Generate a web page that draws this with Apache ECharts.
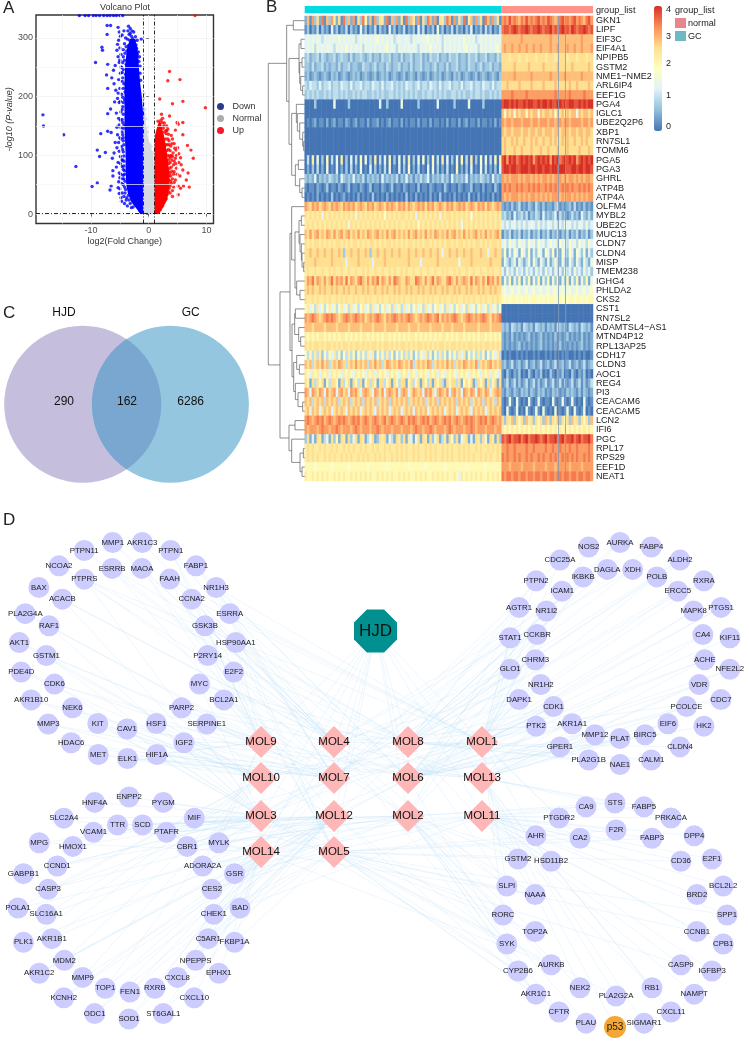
<!DOCTYPE html>
<html><head><meta charset="utf-8">
<script src="https://cdn.jsdelivr.net/npm/echarts@6/dist/echarts.min.js"></script>
<style>html,body{margin:0;padding:0;background:#fff}#c{width:749px;height:1062px}</style>
</head><body><div id="c"></div>
<script>
/* ---------- Panel A : volcano ---------- */
// dense part of each cloud: [-log10P, left log2FC, right log2FC]
const downCloud=[[0,-1.5,-1],[8,-2,-1],[20,-3,-1],[35,-3.6,-1],[50,-3.9,-1],[75,-4,-1],[100,-4,-1],[125,-4.1,-1],[150,-4.2,-1],[175,-4.2,-1],[200,-4.2,-1.2],[225,-4.2,-1.5],[250,-4.1,-1.7],[270,-3.9,-1.8],[285,-3.7,-2],[298,-3.2,-2.4]];
const normalCloud=[[0,-1,1],[60,-1,1],[100,-1,0.8],[115,-1,0.3],[135,-1,-0.2],[155,-1,-0.5],[180,-1,-0.75],[200,-1,-0.9]];
const upCloud=[[0,1,1.8],[10,1,2.4],[25,1,3.2],[50,1,3.6],[75,1,3.5],[100,1,3.2],[120,1,2.9],[135,1.1,2.6],[150,1.5,2.2],[158,1.8,2]];
const downPts=[[-18.3,169],[-18.2,150],[-14.7,135],[-12.6,81],[-9.2,258],[-9.8,47],[-8.9,53],[-8.9,109],[-8.5,98],[-8.3,137],[-7.5,105],[-7.2,321],[-6.6,321],[-7.2,306],[-8.1,284],[-8,279],[-7.1,255],[-7.3,237],[-7.1,214],[-6.6,179],[-7.1,171],[-7.1,141],[-6.5,139],[-6.7,41],[-6.5,48],[-6.2,74],[-6.2,65],[-6,104],[-6.3,95],[-6.1,245],[-6.4,232],[-6,222],[-5.8,253],[-5.7,211],[-5.9,191],[-5.6,172],[-5.4,135],[-5.8,122],[-5.5,113],[-5.3,88],[-5.6,80],[-5.1,70],[-5.2,55],[-5,43],[-4.8,28],[-4.7,22],[-4.6,36],[-4.5,60],[-4.4,50],[-4.3,30],[-4.2,18],[-4,42],[-3.9,24],[-3.7,14],[-3.5,32],[-3.2,18],[-3,11],[-2.7,12],[-5.3,318],[-5.1,310],[-4.9,303],[-5.2,296],[-5.4,289],[-5.5,279],[-5,283],[-5.3,268],[-4.8,272],[-5.1,258],[-4.7,250],[-4.9,240],[-5.2,229],[-4.6,226],[-5,214],[-4.7,204],[-4.9,192],[-4.5,183],[-4.8,174],[-4.6,161],[-4.3,152],[-4.8,147],[-4.5,135],[-4.4,125],[-4.7,115],[-4.4,106],[-4.9,98],[-4.3,90],[-4.6,81],[-4.2,74],[-4.4,66],[-4.1,56],[-3.5,320],[-3.6,312],[-3.2,308],[-2.9,312],[-2.6,310],[-4.3,312],[-4.6,305],[-4,300],[-3.7,298],[-3.3,296],[-2.8,299],[-2.4,295],[-4.2,290],[-3.9,285],[-3.5,287],[-3,285],[-2.6,283],[-2.2,288],[-4.4,280],[-4.1,274],[-3.8,278],[-2.4,276],[-2,272],[-4.2,262],[-3.9,255],[-4.4,246],[-4,238],[-4.3,222],[-4.1,208],[-4.2,195],[-1.3,298],[-1.7,260],[-1.5,240],[-1.4,228],
[-4.4,268],[-4.5,258],[-4.6,241],[-4.5,232],[-4.4,214],[-4.5,199],[-4.4,190],[-4.6,178],[-4.4,170],[-4.5,156],[-4.4,146],[-4.6,140],[-4.4,130],[-4.3,118],[-4.5,110],[-4.3,99],[-4.5,92],[-4.3,82],[-4.4,76],[-4.2,68],[-4.3,60],[-4.2,46],[-4.1,36],[-3.8,28],[-3.4,24],[-5.1,190],[-5.3,206],[-5.2,163],[-5.1,152],[-5,130],[-5.2,122],[-5.1,107],[-4.9,86],[-4.8,68],[-4.7,52],[-5,62],[-5.3,45],[-5.1,35],[-4.9,160],[-4.8,128],[-5.4,197],[-5.5,148],[-4.7,92],[-4.8,250],[-5,262],[-3.4,306],[-3,303],[-2.7,292],[-3.2,316],[-2.3,302],[-2,296],[-2.1,282],[-1.8,276],[-1.6,268],[-1.5,252]];
const normalPts=[[-0.9,197],[-0.8,205],[-0.85,188],[-0.7,170],[-0.4,148],[-0.2,140],[0.2,118],[0.4,115],[0.3,107],[-0.5,162],[-0.65,178],[0.7,105],[0.5,99]];
const upPts=[[3.6,243],[3.3,227],[5.4,229],[1.9,196],[4.1,188],[5.9,192],[9.8,181],[2.2,170],[3.6,167],[6.7,117],[7.3,109],[7.7,95],[6.8,70],[7,46],[5.9,75],[5.4,65],[5.1,33],[5.1,153],[5.9,156],[4.9,156],[4.6,143],[5.9,135],[2.4,163],[2.7,155],[3.1,150],[2.5,146],[3,142],[3.4,136],[3.9,134],[3.5,125],[4.1,128],[4.4,120],[3.8,116],[4.7,109],[4.2,104],[5,113],[3.4,110],[3.6,99],[4,92],[4.6,95],[5.2,103],[5.5,96],[3.5,86],[3.9,80],[4.3,84],[4.8,78],[3.4,72],[3.8,65],[4.3,68],[4.6,58],[5.1,48],[5.5,44],[6,48],[3.5,58],[3.9,52],[4.3,46],[3.5,44],[3.7,36],[4.1,30],[3.2,34],[3,26],[2.6,20],[2.4,14],[2,8],[5.6,84],[5.2,88],[2.9,128],[3.2,118],[3.3,100],[4.4,72],[6.5,58],
[3.3,128],[3.5,118],[3,137],[2.7,140],[3.7,108],[3.9,100],[3.4,92],[3.7,88],[4.1,98],[4.4,90],[3.6,78],[4,73],[3.7,70],[4.1,60],[3.8,56],[3.7,48],[4.1,40],[3.4,38],[2.9,30],[2.7,26],[3.1,142],[2.6,150],[2.3,156],[2.9,118],[3.1,108],[3.7,96],[3.5,65],[4.7,86],[4.9,68],[4.4,54],[4.8,100],[4.5,112],[4,120],[3.3,145],[2.1,160],[1.6,158],[1.9,152]];
const downTop=[[-12,338],[-11,338],[-10.4,338],[-9.6,338],[-9.1,338],[-8.5,338],[-7.8,338],[-7.2,338],[-6.7,338],[-6.1,338],[-5.6,338],[-5,338],[-4.5,338]];
const upTop=[[8,338]];
const volcanoThresholds={fc:[-1,1],p:1.3};
const volcanoTicksX=[-10,0,10], volcanoMinorX=[-15,-5,5], volcanoTicksY=[0,100,200,300], volcanoMinorY=[50,150,250];

/* ---------- Panel B : heat map ---------- */
const geneLabels=['GKN1','LIPF','EIF3C','EIF4A1','NPIPB5','GSTM2','NME1−NME2','ARL6IP4','EEF1G','PGA4','IGLC1','UBE2Q2P6','XBP1','RN7SL1','TOMM6','PGA5','PGA3','GHRL','ATP4B','ATP4A','OLFM4','MYBL2','UBE2C','MUC13','CLDN7','CLDN4','MISP','TMEM238','IGHG4','PHLDA2','CKS2','CST1','RN7SL2','ADAMTSL4−AS1','MTND4P12','RPL13AP25','CDH17','CLDN3','AOC1','REG4','PI3','CEACAM6','CEACAM5','LCN2','IFI6','PGC','RPL17','RPS29','EEF1D','NEAT1'];
// each cell is one hex digit (0..f = expression 0..4); 82 GC columns | 38 normal columns
const Z82='0000000000 0000000000 0000000000 0000000000 0000000000 0000000000 0000000000 0000000000 00';
const Z38='0000000000 0000000000 0000000000 00000000';
const heatRows=[
'2b1c3a2d1b 3c92a1d3b2 c1a3d82b1c 3a92d1b3c2 a1d3b92c1a 3db2c1a93d b1c2a3d19b 2c3a1db2c3 a1|cdcecdcbdc ecdcdecdce dcbcdecdcd ecdcbdec',
'1302140312 0513021403 1206130214 0312051302 1402130514 0213061302 1403120315 0213041302 14|deedefedee fedeefedee fdedefeedf edeefede',
'5656565465 6565756565 6456565656 7565656456 5565465656 6756565465 6565657565 6456565656 56|bbbbbbbbcb bbbbbbbbbb cbbbbbbbbb bbbcbbbb',
'5656465656 6546565756 5656465656 5656756546 5656565465 6575656465 6565656756 5646565656 75|bcbbcbbcbb cbbcbbcbbb cbbcbbbcbb cbbcbbbc',
'3423342432 3342343324 2334323423 3243342332 4233423342 3243342332 4334233243 3423342332 43|aaa9aaa9aa 9aaa9aaa9a aa9aaaa9aa a9aaa9aa',
'3324233423 2332423342 3322433234 2332432334 2332423342 3323423324 2334233243 3234233423 32|aaaaabaaaa abaaaaabaa aaabaaaaab aaaaaaba',
'2312321232 1323123212 3231232123 1232312321 2312321321 2312323123 2132312321 2312321232 13|bbbbbcbbbb bbcbbbbbbb cbbbbbcbbb bbbcbbbb',
'4354435344 5344354435 3445344354 4353445343 4354434534 4354435344 5344353445 3443544353 44|aabaaaabaa aabaaaabaa aabaaaaaba abaaaaba',
'3434343343 4344343433 4343443343 4343344343 4343434334 3443434343 3443434334 3443433434 34|ccccdccccc dccccccccc ccdcccccdc ccccdccc',
'0000300000 0060000030 0000000000 0500300000 6000000300 0000050000 0030000060 0000300000 00|effefefeef effeefeffe feeffefeff eefefeff',
Z82+'|b7bab6babb 8babb6babb ab7bab9bab b6babbab',
'0101201102 0120110210 1201102011 2010120110 2010110201 1020110102 0110201201 1020110102 01|cbccbcccbc ccbccbcccb ccbccbccbc cccbccbc',
Z82+'|babbabbbab babbabbabb babbabbbab babbabba',
Z82+'|abaababaab aababaabaa babaababaa baababaa',
Z82+'|abaaabaaba aabaaabaab aaabaaabaa aabaaaba',
'0409060308 0406090305 0408060309 0405080306 0409030607 0308040905 0306080409 0307060408 09|efcfefdefe fefcefefef cfefdefefe fcefefef',
'0203040206 0105020304 0206010503 0204060105 0307020401 0506030204 0108020305 0106040203 05|effeffeeff feffeffeff effefffeef feffeffe',
'3232513232 4323153232 5232413232 3152323241 3252313242 3513232423 1523232513 2324323152 32|cbcbcccbcb ccbcbcbccb cbcccbcbcc bcbcbccb',
'1011021013 0110210130 1102101301 1021013011 0210110301 1021011031 0110210113 0110201103 10|cdcdccdcdc cdcdcdccdc dcdccdcdcd ccdcdcdc',
'0101020101 0301012010 1020101030 1010201010 1030102010 1020103010 1020101030 1020101020 10|cbcbcccbcb cbccbcbcbc bcccbcbccb cbcbcbcc',
'cbacbcabcb acbcbacbcb cabcbacbca bcbacbcbac bcacbabcbc acbcabcbac bcabcbcabc bacbcacbab cb|2121312412 1321421312 2134121231 41213121',
'a9a9a9a5a9 a9a9a9a9a9 a6a9a9a9a9 a9a7a9a9a9 aa9a9a5a9a 9a9a9a6a9a a9a9a9a9a7 a9a9a9a9a9 a9|3423152342 4132431523 2351423124 23153242',
'9a9a9a9a9a 9a9a9a9a6a 9a9a9a9a9a 9a9a9a9a9a 99a9a9a7a9 a9a9a9a9a9 a9a9a6a9a9 a9a9a9a9a9 a9|5464564546 4565464546 5464546564 54654645',
'bacabcabac bacabcabca bacabacbab cabacabcab abacabcaba cabacbabac abcabacaba bcabacabab ca|1324132413 2413241324 1324132413 24132413',
'a9a9aa9a9a 9a9aa9a9a9 aa9a9a9aa9 a9a9aa9a9a 9a9aa9a9a9 aa9a9a9a9a a9a9aa9a9a 9aa9a9a9aa 9a|5647564756 4756475645 7564756475 64756475',
'aabaabaaba abaaba3aab aabaaba3aa baabaabaab aaabaabaab aabaaba5aa baabaabaab aaabaa5aab aa|3725375275 3725375275 3725275375 27537253',
'aaaabaaaaa abaaaaa5aa aabaaaaa5a aaabaaaaaa aaabaaaa5a aaaaabaaaa aaaa6aaaab aaaaaaabaa aa|2642462642 4626426426 2464264264 26426426',
'9a99a99a99 a9a99a99a9 9a99a9a99a 99a99a9a99 a9a99a99a9 9a99a99a9a 99a9a99a99 a99a99a9a9 9a|5364536453 6453645364 5364536453 64536453',
'acbdacbaca bdacbcadac bacdbacacb dacbacadcb aacbaadcba cabdacbaac dbacabcbad acbacadbca ca|2638263826 3826382638 2638263826 38263826',
'ababaababa ababaababa abaababaab aababaabab aababaabab aababaabab aababaabab aababaabab aa|6756756756 7567567567 5675675675 67567567',
'a99a9a99a9 a99a9a9a99 a9a99a9a99 a9a99a9a9a 9a99a9a99a 9a9a99a9a9 9a9a99a9a9 a99a9a99a9 a9|8787887878 8788878787 8878878788 78878788',
'8958495847 9584795849 5847958495 8479584958 4958479584 9584795849 5847958495 8479584958 47|'+Z38,
'cbcdcbabcd cdcbabcdcb cdcbcabcbc dcbacbcdcb cbcdcbabcb cdcbcdacbc bcdcbabcdc bcbcdcbacb cd|'+Z38,
'bbbabbbbab bbbabbbbab bbbabbbbab bbbabbbbab bbbabbbabb bbabbbbabb babbbbabbb bbabbbbabb bb|3231432314 3231432313 2314323143 23143231',
'9898989989 8989899898 9898998989 8989989898 9898998989 8989898998 9898998989 8989989898 98|2121312121 2312123121 2131212312 12131212',
'a9a9aa9a9a a9a9a9aa9a 9aa9a9a9aa 9a9aa9a9a9 aa9a9a9aa9 a9a9a9aa9a 9aa9a9a9aa 9a9a9aa9a9 a9|2121212312 1212123121 2121312121 21231212',
'7484949374 8594837494 8374849593 7484948374 8494837485 9483749483 7484959374 8494837485 94|0101001010 1001010010 1010010100 10101001',
'bab4abacab 4abacba4ab acabab4bac ab4acbabac babac4abab acb4ababac ab4abacbab ac4ababcab ab|2312412312 4123124123 1241231241 23124123',
'9859895989 5989859898 5989859895 9898598985 9895985989 8598959859 8985989859 8985989598 59|1031021301 0310213010 3102130103 10213010',
'a82a4a8a28 4aa82a48a2 a84a28a4a8 2aa48a2a84 aa28a48a2a 84a2a8a42a 8aa4a28a8a 24a8a2a48a 2a|1241241312 4124131241 2412413124 12413124',
'cb5cbacb5c abc5bcab5c bca5bcba5c bac5bcbac5 bcb5acbab5 cbca5bcbac 5bcab5cbac b5cbacb5ab cb|2132132132 3132132312 1323121323 21313212',
'bab4abab4b abab4abab4 abab4babab 4abab4baba bab4ababab 4abab4baba bab4babab4 abab4baba4 ba|1016106101 0610161011 0610161016 10106101',
'ab5bab5aba b5ababa5ba bab5ababa5 babab5abab 5abab5baba b5ababab5a bab5ababa5 babab5abab ab|1061016010 6101610610 1060101610 61016010',
'cdcbcdcdbc dcbcdcdcbc dcdbcdcbcd cbcdbcdcbc dcbdcdcbcd cdbcdcbcdc dbcdcbcdcd cbcdcdbcdc bc|a3a9b3a8a3 b9a3a8a3ba 3a9b3a8a3b 9a3a8a3b',
'cbcccbcdcc bccdcbcccb cdcbcccbcc dcbcccbccc bcccbcdccb ccdcbcccbc dcbcccbccd cbcccbcccb cc|9898989898 9898989898 9898989898 98989898',
'3a252a9246 2a382a92a3 6a2a9247a2 3a9a2642a9 3a29526a2a 92a36a2492 a73a269a25 2a93a62a92 a3|edefdeefde fdeefedefd eefdefdeef defdeefd',
'9a9a99a9a9 9a9a99a9a9 a99a9a99a9 a99a9a99a9 a9a99a9a99 a9a9a99a9a 9a99a9a9a9 9a9a99a9a9 a9|ccdccdcccc dccdccccdc cdccdcccdc cdccccdc',
'9a9a9a99a9 a9a99a9a9a 99a9a9a99a 9a9a99a9a9 a9a99a9a99 a9a9a99a9a 9a99a9a9a9 a99a9a9a99 a9|dcdccdcdcc dcdccdcdcc dcdccdcdcd cdccdcdc',
'8888788888 8788888878 8888887888 8888788888 8887888888 7888888878 8888888788 8888878888 88|cccbccccbc cccbccccbc ccbcccccbc cccbcccc',
'9889898989 8898989889 8989898988 9898989889 8989889898 9889898989 8898598989 8989889898 98|dcddcddcdd cddcddcddc ddcddcddcd dcddcddc'];
const groupColumns=[['GC',82],['normal',38]];
const outlierColumns=[105,108];
const colorTicks=['4','3','2','1','0'];
// row dendrogram: [height, child, child]; 0 = next leaf in row order
const rowTree=[109,
 [54,[34,0,0],[47,[17,[11,0,0],[15,[8,0,0],[12,0,[6,0,0]]]],[39,[25,0,[22,0,[15,0,[6,0,[3,0,0]]]]],[28,[19,0,0],[15,0,[8,0,0]]]]]],
 [74,[44,[39,0,[29,[17,[10,0,0],[14,0,[10,0,[8,0,[3,0,0]]]]],[24,0,[14,0,0]]]],
         [38,[30,[28,0,0],[18,0,[12,0,0]]],[33,[24,0,[16,0,0]],[28,0,[20,0,[6,0,0]]]]]],
     [47,[29,0,0],[39,0,[14,[4,0,0],[8,0,0]]]]]];

/* ---------- Panel C : Venn ---------- */
const vennSets=['HJD','GC'];
const vennCounts=[290,162,6286];

/* ---------- Panel D : network ---------- */
const ringTLouter=['MMP1','AKR1C3','PTPN1','FABP1','NR1H3','ESRRA','HSP90AA1','E2F2','BCL2A1','SERPINE1','IGF2','HIF1A','ELK1','MET','HDAC6','MMP3','AKR1B10','PDE4D','AKT1','PLA2G4A','BAX','NCOA2','PTPN11'];
const ringTLinner=['ESRRB','MAOA','FAAH','CCNA2','GSK3B','P2RY14','MYC','PARP2','HSF1','CAV1','KIT','NEK6','CDK6','GSTM1','RAF1','ACACB','PTPRS'];
const ringTRouter=['AURKA','FABP4','ALDH2','RXRA','PTGS1','KIF11','NFE2L2','CDC7','HK2','CLDN4','CALM1','NAE1','PLA2G1B','GPER1','PTK2','DAPK1','GLO1','STAT1','AGTR1','PTPN2','CDC25A','NOS2'];
const ringTRinner=['XDH','POLB','ERCC5','MAPK8','CA4','ACHE','VDR','PCOLCE','EIF6','BIRC5','PLAT','MMP12','AKR1A1','CDK1','NR1H2','CHRM3','CCKBR','NR1I2','ICAM1','IKBKB','DAGLA'];
const ringBLouter=['ENPP2','PYGM','MIF','MYLK','GSR','BAD','FKBP1A','EPHX1','CXCL10','ST6GAL1','SOD1','ODC1','KCNH2','AKR1C2','PLK1','POLA1','GABPB1','MPG','SLC2A4','HNF4A'];
const ringBLinner=['TTR','SCD','PTAFR','CBR1','ADORA2A','CES2','CHEK1','C5AR1','NPEPPS','CXCL8','RXRB','FEN1','TOP1','MMP9','MDM2','AKR1B1','SLC16A1','CASP3','CCND1','HMOX1','VCAM1'];
const ringBRouter=['STS','FABP5','PRKACA','DPP4','E2F1','BCL2L2','SPP1','CPB1','IGFBP3','NAMPT','CXCL11','SIGMAR1','p53','PLAU','CFTR','AKR1C1','CYP2B6','SYK','RORC','SLPI','GSTM2','AHR','PTGDR2','CA9'];
const ringBRinner=['F2R','FABP3','CD36','BRD2','CCNB1','CASP9','RB1','PLA2G2A','NEK2','AURKB','TOP2A','NAAA','HSD11B2','CA2'];
const molColumns=[['MOL9','MOL10','MOL3','MOL14'],['MOL4','MOL7','MOL12','MOL5'],['MOL8','MOL6','MOL2'],['MOL1','MOL13','MOL11']];
const molTargets={
MOL1:['NOS2','CDC25A','PTPN2','AGTR1','STAT1','GLO1','DAPK1','PTK2','CDK1','NR1H2','CHRM3','CCKBR','ICAM1','IKBKB','MAPK8','PTGS1','CA4','ACHE','PTPRS','ESRRA','NR1H3','CA2','AHR','PTGDR2','FAAH','CCNA2','ADORA2A','MIF','SLPI','RORC'],
MOL2:['SLPI','RORC','SYK','CYP2B6','AKR1C1','CFTR','PLAU','NEK2','AURKB','TOP2A','NAAA','GSTM2','HSD11B2','MIF','SCD','TTR','PTAFR','CBR1','GSR','ADORA2A','CA9','STS','PTPRS','GSK3B','MYLK','CES2','MYC','AGTR1','GLO1','DAPK1'],
MOL3:['PTPRS','ACACB','RAF1','GSTM1','CDK6','NEK6','KIT','CAV1','HSF1','PARP2','MYC','SLC2A4','HNF4A','ENPP2','PYGM','MIF','MYLK','ADORA2A','CBR1','VCAM1','HMOX1','CCND1','CASP3','GABPB1','MPG','SYK','RORC','CYP2B6','CDK1','CHRM3','STAT1'],
MOL4:['FAAH','MAOA','ESRRB','MMP1','AKR1C3','PTPN1','FABP1','CCNA2','GSK3B','HSP90AA1','P2RY14','ACACB','BAX','NCOA2','PTPN11','PTK2','GPER1','NR1H2','XDH','DAGLA','AKR1C1','SLPI','GSR','BAD'],
MOL5:['TOP2A','AURKB','CYP2B6','CFTR','AKR1C1','NAAA','F2R','CA2','CD36','FABP3','CCNB1','CASP9','SPP1','BAD','CHEK1','CES2','FKBP1A','C5AR1','PLA2G2A','GSTM2','MIF','HSP90AA1','E2F2','PTPN1','NR1H3'],
MOL6:['GLO1','CHRM3','CCKBR','NR1I2','ICAM1','POLB','ERCC5','MAPK8','VDR','PCOLCE','EIF6','CDK1','AKR1A1','MMP12','PLAT','BIRC5','HK2','KIF11','NFE2L2','CDC7','ACHE','PTGS1','RXRA','ESRRA','NR1H3','FABP1','HSP90AA1','SERPINE1','BCL2A1','GSR','SYK'],
MOL7:['E2F2','BCL2A1','SERPINE1','IGF2','HIF1A','ELK1','MET','HDAC6','MMP3','AKR1B10','PDE4D','AKT1','PLA2G4A','FABP1','NR1H3','ESRRA','AURKA','FABP4','ALDH2','CDC25A','STAT1','MYLK','CBR1','CES2','CHEK1','AGTR1','NR1H2'],
MOL8:['AURKA','ALDH2','RXRA','XDH','DAGLA','POLB','NR1I2','DAPK1','GPER1','PLA2G1B','NAE1','CALM1','CLDN4','CDC7','PTPN2','AGTR1','IKBKB','ERCC5','ESRRB','PTPRS','GSK3B','P2RY14','MYC','PARP2','SLPI','GSTM2'],
MOL9:['CCNA2','GSK3B','P2RY14','MYC','HSP90AA1','E2F2','BCL2A1','SERPINE1','PARP2','HSF1','IGF2','ELK1','HIF1A','PTPN1','FAAH','MAOA','ESRRB','RAF1','GSTM1','CDK6','ADORA2A','MYLK'],
MOL10:['CAV1','KIT','MET','HDAC6','NEK6','MMP3','AKR1B10','SERPINE1','IGF2','AKT1','PDE4D','GSTM1','MDM2','MMP9','TOP1','AKR1B1','SLC16A1','PLK1','POLA1','CASP3','CDK1','AKR1A1','GLO1'],
MOL11:['CA9','PTGDR2','AHR','GSTM2','HSD11B2','CA2','F2R','FABP5','PRKACA','DPP4','FABP3','CD36','E2F1','BCL2L2','BRD2','NAAA','CCNB1','CASP9','RB1','IGFBP3','NAMPT','SPP1','CPB1','GSR','PTAFR','CBR1','ADORA2A','BAD'],
MOL12:['SLC16A1','AKR1B1','CASP3','CCND1','VCAM1','TTR','SCD','PTAFR','MMP9','MDM2','CHEK1','CES2','C5AR1','NPEPPS','CXCL8','RXRB','FEN1','TOP1','AKR1C2','KCNH2','ODC1','SOD1','ST6GAL1','CCKBR','CDK1','MAOA','HSF1','SYK','CFTR'],
MOL13:['RB1','CXCL11','SIGMAR1','p53','PLA2G2A','NEK2','STS','FABP5','PRKACA','PTK2','CDK1','MMP12','BIRC5','PLAT','EIF6','PCOLCE','VDR','CA4','ACHE','NFE2L2','HIF1A','IGF2','CAV1','ELK1','MYC','PARP2'],
MOL14:['CXCL10','CXCL8','EPHX1','FKBP1A','NPEPPS','BAD','GSR','ST6GAL1','SOD1','ODC1','KCNH2','AKR1C2','TOP1','FEN1','RXRB','MYLK','CES2','SLC2A4','MPG','POLA1','PLK1','AURKB','NAAA']
};

/* ---------- styles & layout ---------- */
const FONT='"Liberation Sans",Arial,sans-serif';
const heatColors=['#4575B4','#91BFDB','#E0F3F8','#FFFFBF','#FEE090','#FC8D59','#D73027'];
const HEAT={l:304.7,t:16,w:288.3,h:465};
const rings=[
 [ringTLouter,127.5,650,108.5,-7.83],[ringTLinner,127,648,81,-10.6],
 [ringTRouter,620,653.5,111,0],[ringTRinner,620,653.5,85,8.57],
 [ringBLouter,129,908,111,0],[ringBLinner,130,908,84,-8.57],
 [ringBRouter,615,915,112,0],[ringBRinner,616,913,83,0]];
const molX=[261,334,408,482], molY=[742,778,816,852];

/* ---------- derived ---------- */
const heatData=[];
heatRows.forEach((r,y)=>{r.replace(/[ |]/g,'').split('').forEach((c,x)=>heatData.push([x,y,parseInt(c,16)*4/15]));});
const columnCount=groupColumns[0][1]+groupColumns[1][1];
const columnIds=Array.from({length:columnCount},(_,i)=>String(i));

const merges=[];let leaf=0;
(function walk(n){
  if(n===0){leaf++;return {y:leaf-0.5,h:0};}
  const a=walk(n[1]),b=walk(n[2]);
  merges.push([a.y,a.h,b.y,b.h,n[0]]);
  return {y:(a.y+b.y)/2,h:n[0]};
})(rowTree);

const nodes=[],links=[];
rings.forEach(([names,cx,cy,r,start])=>{
  names.forEach((name,i)=>{
    const a=(start+i*360/names.length)*Math.PI/180;
    const isP=name==='p53';
    nodes.push({name,value:[cx+r*Math.sin(a),cy-r*Math.cos(a)],symbol:'circle',symbolSize:isP?22:21,
      itemStyle:{color:isP?'#F5A733':'#CCCCFF'},label:{fontSize:isP?10:7.8,color:'#1a1a1a'}});
  });
});
molColumns.forEach((col,ci)=>col.forEach((name,ri)=>{
  nodes.push({name,value:[molX[ci],molY[ri]],symbol:'diamond',symbolSize:32,itemStyle:{color:'#FFB6B6'},label:{fontSize:11.5,color:'#111'}});
  links.push({source:'HJD',target:name});
}));
nodes.push({name:'HJD',value:[375.5,631],symbol:'path://M30,0 L70,0 L100,30 L100,70 L70,100 L30,100 L0,70 L0,30 Z',symbolSize:43,itemStyle:{color:'#009090'},label:{fontSize:17,color:'#111'}});
Object.keys(molTargets).forEach(m=>molTargets[m].forEach(t=>links.push({source:m,target:t})));

function volcanoCloud(rows,color,name){
  return {type:'custom',name,xAxisIndex:0,yAxisIndex:0,silent:true,clip:true,data:[0],z:2,
    renderItem:(p,api)=>{
      const pts=rows.map(r=>api.coord([r[1],r[0]])).concat(rows.slice().reverse().map(r=>api.coord([r[2],r[0]])));
      return {type:'polygon',shape:{points:pts},style:{fill:color}};
    }};
}
function scatter(name,data,color){
  return {type:'scatter',name,xAxisIndex:0,yAxisIndex:0,data,symbolSize:3.4,itemStyle:{color},z:3,silent:true};
}

const series=[
 volcanoCloud(normalCloud,'#D3DAE1','Normal'),
 scatter('Normal',normalPts,'#D3DAE1'),
 volcanoCloud(downCloud,'#0000FF','Down'),
 volcanoCloud(upCloud,'#FF0000','Up'),
 scatter('Down',downPts.concat(downTop),'#0000FF'),
 scatter('Up',upPts.concat(upTop),'#FF0000'),
 {type:'line',xAxisIndex:0,yAxisIndex:0,data:[],z:5,silent:true,
  markLine:{silent:true,symbol:'none',label:{show:false},animation:false,
    lineStyle:{color:'#111',width:0.9,type:[4,2,1,2]},
    data:[{xAxis:volcanoThresholds.fc[0]},{xAxis:volcanoThresholds.fc[1]},{yAxis:volcanoThresholds.p}]}},
 {type:'heatmap',xAxisIndex:1,yAxisIndex:1,data:heatData,silent:true,z:2,
  markLine:{silent:true,symbol:'none',label:{show:false},animation:false,
    lineStyle:{color:'#7F98B8',width:0.9,type:'solid',opacity:0.85},
    data:outlierColumns.map(c=>({xAxis:String(c)}))}},
 ...groupColumns.map((g,i)=>({type:'bar',name:g[0],xAxisIndex:2,yAxisIndex:2,stack:'g',barWidth:'100%',silent:true,
    data:[g[1]],itemStyle:{color:i?'#FF9289':'#00DAE0'}})),
 {type:'custom',xAxisIndex:3,yAxisIndex:3,data:merges,silent:true,clip:false,
  renderItem:(p,api)=>{
    const m=merges[p.dataIndex];
    const P=(h,y)=>api.coord([h,y]);
    return {type:'polyline',shape:{points:[P(m[1],m[0]),P(m[4],m[0]),P(m[4],m[2]),P(m[3],m[2])]},
      style:{stroke:'#5d5d5d',lineWidth:0.7,fill:null}};
  }},
 {type:'custom',coordinateSystem:'none',silent:true,data:vennCounts,z:2,
  renderItem:(p,api)=>{
    const cy=404.2,r=78.5,c=[82.7,170.4],i=p.dataIndex;
    const textAt=[64,127,190.7][i];
    const kids=[];
    if(i===0)kids.push({type:'circle',shape:{cx:c[0],cy,r},style:{fill:'#C5BFDD'}});
    if(i===2)kids.push({type:'circle',shape:{cx:c[1],cy,r},style:{fill:'#94C6E0'}});
    if(i===1){
      const a=Math.acos((c[1]-c[0])/2/r),pts=[];
      for(let k=0;k<=60;k++){const t=-a+2*a*k/60;pts.push([c[0]+r*Math.cos(t),cy+r*Math.sin(t)]);}
      for(let k=0;k<=60;k++){const t=Math.PI-a+2*a*k/60;pts.push([c[1]+r*Math.cos(t),cy+r*Math.sin(t)]);}
      kids.push({type:'polygon',z2:5,shape:{points:pts},style:{fill:'#79A7D0'}});
    }
    kids.push({type:'text',z2:10,style:{text:String(vennCounts[i]),x:textAt,y:401.7,textAlign:'center',textVerticalAlign:'middle',fontSize:12,fontFamily:FONT,fill:'#111'}});
    return {type:'group',children:kids};
  }},
 {type:'graph',coordinateSystem:'cartesian2d',xAxisIndex:4,yAxisIndex:4,silent:true,z:4,animation:false,
  data:nodes,links,edgeSymbol:['none','none'],
  lineStyle:{color:'#B5D9F5',width:0.45,opacity:0.5,curveness:0},
  label:{show:true,position:'inside',fontFamily:FONT,overflow:'none'},
  emphasis:{disabled:true}},
 {type:'line',xAxisIndex:0,yAxisIndex:0,data:[],z:1,silent:true,
  markLine:{silent:true,symbol:'none',label:{show:false},animation:false,
    lineStyle:{color:'#f5f5f5',width:0.7,type:'solid'},
    data:volcanoMinorX.map(v=>({xAxis:v})).concat(volcanoMinorY.map(v=>({yAxis:v})))}}
];

const txt=(text,x,y,fontSize,extra)=>({type:'text',silent:true,style:Object.assign({text,x,y,fontSize,fontFamily:FONT,fill:'#222',textVerticalAlign:'middle'},extra||{})});
const graphics=[
 txt('A',3,8,17),txt('B',266,7,17),txt('C',3,313,17),txt('D',3,520,17),
 txt('Volcano Plot',125,8,9,{textAlign:'center',fill:'#333'}),
 ...vennSets.map((s,i)=>txt(s,[64,190.7][i],313,12,{textAlign:'center',fill:'#111'})),
 txt('group_list',596,10,9.1),txt('group_list',675,10,9.1),
 {type:'rect',silent:true,shape:{x:675,y:18,width:11,height:10},style:{fill:'#E8868F'}},
 {type:'rect',silent:true,shape:{x:675,y:31,width:11,height:10},style:{fill:'#6FB9C2'}},
 ...groupColumns.slice().reverse().map((g,i)=>txt(g[0],688,[23,36][i],9.1)),
 ...colorTicks.map((t,i)=>txt(t,666,[10,37,64,96,127][i],9))
];

const option={
 animation:false,
 textStyle:{fontFamily:FONT},
 legend:{left:217,top:102,orient:'vertical',padding:0,itemGap:3,itemWidth:14,itemHeight:7,selectedMode:false,icon:'circle',
   textStyle:{fontSize:9,color:'#333',fontFamily:FONT},
   data:[{name:'Down',itemStyle:{color:'#2B3A8F'}},{name:'Normal',itemStyle:{color:'#A9ABB0'}},{name:'Up',itemStyle:{color:'#EE1C25'}}]},
 visualMap:{type:'continuous',seriesIndex:7,dimension:2,min:0,max:4,left:639,top:-9,itemWidth:8,itemHeight:125,calculable:false,text:null,showLabel:false,
   inRange:{color:heatColors},textStyle:{fontSize:1,color:'rgba(0,0,0,0)'}},
 grid:[
  {left:36,top:15,width:177.5,height:208.5,show:true,borderColor:'#333',borderWidth:1.4,backgroundColor:'#fff',containLabel:false},
  {left:HEAT.l,top:HEAT.t,width:HEAT.w,height:HEAT.h},
  {left:HEAT.l,top:6,width:HEAT.w,height:7.3},
  {left:268.3,top:HEAT.t,width:36.4,height:HEAT.h},
  {left:0,top:0,width:749,height:1062}
 ],
 xAxis:[
  {type:'value',gridIndex:0,min:-19.5,max:11.2,name:'log2(Fold Change)',nameLocation:'middle',nameGap:14,
   nameTextStyle:{fontSize:9,color:'#333'},axisLine:{show:false},
   axisTick:{show:true,length:2.5,lineStyle:{color:'#333',width:0.7},customValues:volcanoTicksX},
   axisLabel:{fontSize:9,color:'#4d4d4d',margin:3,customValues:volcanoTicksX,showMinLabel:true,showMaxLabel:true},
   splitLine:{show:true,lineStyle:{color:'#efefef',width:0.7}}},
  {type:'category',gridIndex:1,data:columnIds,show:false},
  {type:'value',gridIndex:2,min:0,max:columnCount,show:false},
  {type:'value',gridIndex:3,min:0,max:109,inverse:true,show:false},
  {type:'value',gridIndex:4,min:0,max:749,show:false}
 ],
 yAxis:[
  {type:'value',gridIndex:0,min:-16,max:339,name:'-log10 (P-value)',nameLocation:'middle',nameGap:21,
   nameTextStyle:{fontSize:9,fontStyle:'italic',color:'#333'},axisLine:{show:false},
   axisTick:{show:true,length:2.5,lineStyle:{color:'#333',width:0.7},customValues:volcanoTicksY},
   axisLabel:{fontSize:9,color:'#4d4d4d',margin:3,customValues:volcanoTicksY},
   splitLine:{show:true,lineStyle:{color:'#efefef',width:0.7}}},
  {type:'category',gridIndex:1,data:geneLabels,inverse:true,position:'right',axisLine:{show:false},axisTick:{show:false},
   axisLabel:{fontSize:9.1,color:'#222',margin:3,interval:0}},
  {type:'category',gridIndex:2,data:['group_list'],show:false},
  {type:'value',gridIndex:3,min:0,max:50,inverse:true,show:false},
  {type:'value',gridIndex:4,min:0,max:1062,inverse:true,show:false}
 ],
 series,
 graphic:graphics
};
const chart=echarts.init(document.getElementById('c'),null,{renderer:'canvas',width:749,height:1062});
chart.setOption(option);
</script></body></html>
